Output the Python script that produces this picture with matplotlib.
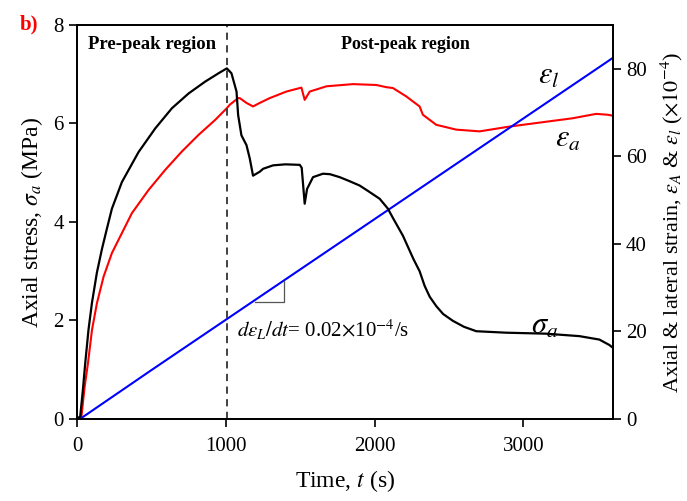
import matplotlib
matplotlib.use("Agg")
import matplotlib.pyplot as plt

plt.rcParams['font.family'] = ['Liberation Serif', 'DejaVu Serif']
plt.rcParams['mathtext.fontset'] = 'stix'

# Axial stress sigma_a (MPa) vs time (s)
t_sigma = [0, 22, 40, 56, 78, 101, 134, 168, 201, 235, 302, 414, 526, 638, 750, 861, 951,
           1007, 1038, 1072, 1083, 1105, 1139, 1161, 1183, 1228, 1251, 1318, 1400, 1497,
           1510, 1530, 1546, 1586, 1653, 1700, 1765, 1830, 1899, 1960, 2034, 2089, 2123,
           2190, 2260, 2302, 2336, 2370, 2414, 2460, 2526, 2600, 2683, 2884, 3152, 3376,
           3510, 3577, 3598]
sigma = [0, 0.05, 0.59, 1.14, 1.82, 2.36, 2.97, 3.45, 3.86, 4.27, 4.81, 5.42, 5.90, 6.31,
         6.61, 6.85, 7.02, 7.12, 7.02, 6.65, 6.17, 5.76, 5.56, 5.29, 4.94, 5.02, 5.08, 5.15,
         5.17, 5.16, 5.10, 4.37, 4.67, 4.91, 4.98, 4.97, 4.91, 4.83, 4.74, 4.62, 4.47, 4.27,
         4.08, 3.72, 3.25, 3.00, 2.70, 2.48, 2.29, 2.13, 1.99, 1.87, 1.78, 1.75, 1.73, 1.68,
         1.61, 1.50, 1.45]

# Axial strain eps_a (x1e-4)
t_eps_a = [0, 29, 52, 74, 101, 134, 179, 235, 313, 369, 481, 593, 705, 817, 928, 1007,
           1027, 1083, 1094, 1139, 1183, 1228, 1295, 1407, 1508, 1530, 1564, 1676, 1855,
           2011, 2079, 2123, 2212, 2302, 2324, 2414, 2548, 2705, 2906, 3107, 3331, 3488,
           3566, 3598]
eps_a = [0, 0.2, 7.4, 12.7, 20.3, 26.4, 32.5, 37.9, 43.2, 47.0, 52.3, 56.9, 61.1, 64.9,
         68.3, 71.0, 71.8, 73.3, 73.3, 72.2, 71.4, 72.2, 73.3, 74.8, 75.7, 72.9, 74.8,
         76.0, 76.5, 76.3, 75.8, 75.6, 73.7, 71.4, 69.5, 67.2, 66.1, 65.7, 66.8, 67.7,
         68.7, 69.7, 69.5, 69.3]

# Lateral strain eps_l (x1e-4)
t_eps_l = [22, 503, 3566, 3600]
eps_l = [0, 11.2, 81.7, 82.5]

# slope triangle (t, strain)
tri_t = [1195, 1391, 1391]
tri_e = [26.8, 26.8, 31.4]

peak_t = 1010

fig = plt.figure(figsize=(6.87, 5.01), dpi=100)
ax = fig.add_axes([0.112, 0.164, 0.780, 0.786])
ax2 = ax.twinx()

ax.plot(t_sigma, sigma, color='black', lw=1.6, zorder=3)
ax2.plot(t_eps_a, eps_a, color='#ff0000', lw=1.5)
ax2.plot(t_eps_l, eps_l, color='#0000ff', lw=1.5)
ax2.plot(tri_t, tri_e, color='#555555', lw=0.9)
ax.axvline(peak_t, color='#333333', lw=1.3, ls=(0, (4, 3)))

ax.set_xlim(0, 3600)
ax.set_ylim(0, 8)
ax2.set_ylim(0, 90)
ax.set_xticks([0, 1000, 2000, 3000])
ax.set_yticks([0, 2, 4, 6, 8])
ax2.set_yticks([0, 20, 40, 60, 80])

for a in (ax, ax2):
    a.tick_params(direction='out', length=6, width=1.2, labelsize=15)
    for s in a.spines.values():
        s.set_linewidth(1.3)
ax.tick_params(axis='x', pad=7)
ax.zorder = 2
ax.patch.set_visible(False)

ax.set_xlabel('Time, $t$ (s)', fontsize=17, labelpad=9)
ax.set_ylabel('Axial stress, $\\sigma_a$ (MPa)', fontsize=17, labelpad=6)
ax2.set_ylabel('Axial & lateral strain, $\\varepsilon_A$ & $\\varepsilon_l$ ($\\times10^{-4}$)',
               fontsize=16, labelpad=8)

ax.text(75, 7.6, 'Pre-peak region', fontsize=13.5, fontweight='bold', va='center')
ax.text(1775, 7.6, 'Post-peak region', fontsize=13, fontweight='bold', va='center')
ax2.text(3168, 78.2, '$\\varepsilon_l$', fontsize=22, ha='center', va='center')
ax2.text(3295, 63.8, '$\\varepsilon_a$', fontsize=22, ha='center', va='center')
ax.text(3141, 1.88, '$\\sigma_a$', fontsize=22, ha='center', va='center')
ax2.text(1074, 20.3, '$d\\varepsilon_L/dt$= 0.02$\\times$10$^{-4}$/s', fontsize=15, va='center')

fig.text(0.028, 0.952, 'b)', color='#ff0000', fontsize=15, fontweight='bold', va='center')

fig.savefig('out.png', dpi=100)
